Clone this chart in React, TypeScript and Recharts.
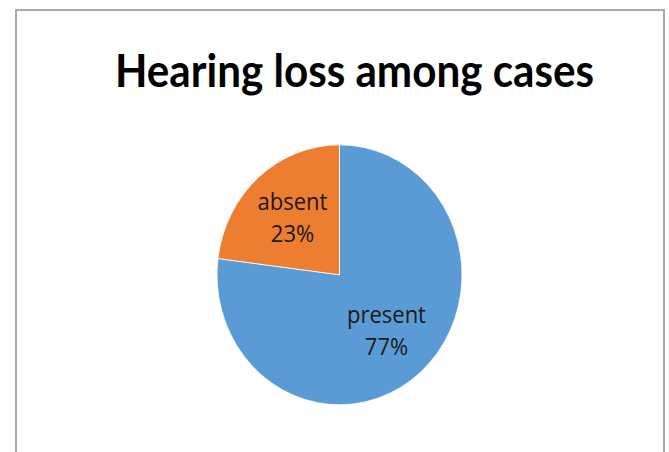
import React from "react"
import { PieChart, Pie, Cell } from "recharts"

const categories = ["present", "absent"]
const shares = [77, 23]
const sliceColors = ["#5B9BD5", "#ED7D31"]
const chartTitle = "Hearing loss among cases"

const data = categories.map((name, i) => ({ name, value: shares[i] }))

// the reference is slightly taller than wide, so the whole chart is stretched vertically
const STRETCH = 1.061
const RAD = Math.PI / 180

function renderLabel(props: any) {
  const { cx, cy, midAngle, outerRadius, name, percent } = props
  const r = outerRadius * 0.58
  const x = cx + r * Math.cos(-midAngle * RAD)
  const y = cy + r * Math.sin(-midAngle * RAD)
  return (
    <text
      x={x}
      y={y}
      textAnchor="middle"
      fill="#1a1a1a"
      style={{ fontFamily: "'Open Sans', sans-serif", fontSize: 22 }}
    >
      <tspan x={x} y={y - 8}>{name}</tspan>
      <tspan x={x} y={y + 22}>{`${Math.round(percent * 100)}%`}</tspan>
    </text>
  )
}

export default function App() {
  return (
    <div style={{ position: "absolute", left: 0, top: 0, width: 669, height: 452, overflow: "hidden", background: "#fff" }}>
      <div
        style={{
          position: "absolute",
          left: 15,
          top: 9,
          width: 646,
          height: 500,
          border: "2px solid #a9a9a9",
        }}
      />
      <div
        style={{
          position: "absolute",
          left: 0,
          top: 0,
          width: 669,
          height: 426,
          transform: `scaleY(${STRETCH})`,
          transformOrigin: "0 0",
        }}
      >
        <svg width={669} height={120} style={{ position: "absolute", left: 0, top: 0 }}>
          <text
            x={115}
            y={82}
            textLength={479}
            lengthAdjust="spacingAndGlyphs"
            fill="#000"
            style={{ fontFamily: "Lato, 'Open Sans', sans-serif", fontWeight: 700, fontSize: 44 }}
          >
            {chartTitle}
          </text>
        </svg>
        <div style={{ position: "absolute", left: 0, top: 0 }}>
          <PieChart width={669} height={426} margin={{ top: 0, right: 0, bottom: 0, left: 0 }}>
            <Pie
              data={data}
              dataKey="value"
              nameKey="name"
              cx={339.5}
              cy={259}
              outerRadius={122.5}
              startAngle={90}
              endAngle={-270}
              stroke="#ffffff"
              strokeWidth={0.75}
              label={renderLabel}
              labelLine={false}
              isAnimationActive={false}
            >
              {data.map((d, i) => (
                <Cell key={d.name} fill={sliceColors[i]} />
              ))}
            </Pie>
          </PieChart>
        </div>
      </div>
    </div>
  )
}
